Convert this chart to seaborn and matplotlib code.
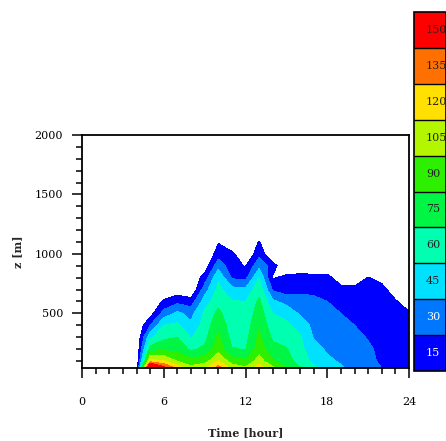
import numpy as np
import matplotlib
matplotlib.use("Agg")
import matplotlib.pyplot as plt
import seaborn as sns

# ---------------- data ----------------
hours = [0, 1, 2, 3, 4, 5, 6, 7, 8, 9, 10, 11, 12, 13, 14, 15, 16, 17, 18, 19, 20, 21, 22, 23, 24]
heights = [40, 100, 200, 300, 400, 500, 600, 700, 800, 900, 1000, 1100, 1200]

# concentration profiles (value at each height) for each hour
h00 = [0, 0, 0, 0, 0, 0, 0, 0, 0, 0, 0, 0, 0]
h01 = [0, 0, 0, 0, 0, 0, 0, 0, 0, 0, 0, 0, 0]
h02 = [0, 0, 0, 0, 0, 0, 0, 0, 0, 0, 0, 0, 0]
h03 = [0, 0, 0, 0, 0, 0, 0, 0, 0, 0, 0, 0, 0]
h04 = [0, 0, 0, 0, 0, 0, 0, 0, 0, 0, 0, 0, 0]
h05 = [200, 125, 82, 56, 30, 8, 0, 0, 0, 0, 0, 0, 0]
h06 = [158, 120, 85, 72, 60, 36, 18, 0, 0, 0, 0, 0, 0]
h07 = [130, 104, 85, 75, 63, 48, 26, 5, 0, 0, 0, 0, 0]
h08 = [110, 95, 72, 59, 48, 40, 22, 0, 0, 0, 0, 0, 0]
h09 = [118, 98, 78, 70, 66, 63, 52, 38, 22, 5, 0, 0, 0]
h10 = [142, 120, 98, 93, 86, 79, 70, 64, 58, 40, 22, 14, 0]
h11 = [115, 97, 76, 70, 67, 64, 61, 50, 28, 20, 19, 0, 0]
h12 = [108, 92, 74, 70, 67, 64, 60, 48, 26, 14, 0, 0, 0]
h13 = [128, 112, 98, 93, 88, 83, 78, 70, 60, 41, 25, 16, 0]
h14 = [108, 92, 80, 72, 66, 60, 48, 28, 13, 22, 0, 0, 0]
h15 = [90, 80, 76, 69, 63, 55, 40, 22, 20, 0, 0, 0, 0]
h16 = [76, 70, 65, 62, 54, 43, 35, 27, 20, 5, 0, 0, 0]
h17 = [63, 55, 50, 44, 41, 37, 33, 27, 19, 5, 0, 0, 0]
h18 = [55, 48, 43, 40, 37, 34, 30, 25, 19, 5, 0, 0, 0]
h19 = [47, 43, 40, 37, 34, 30, 25, 19, 8, 0, 0, 0, 0]
h20 = [40, 38, 36, 34, 30, 27, 23, 18, 8, 0, 0, 0, 0]
h21 = [35, 33, 32, 29, 27, 25, 23, 20, 15.5, 0, 0, 0, 0]
h22 = [30, 28, 27, 26, 25, 23, 21, 18, 12, 0, 0, 0, 0]
h23 = [27, 26, 25, 24, 22, 20, 16, 10, 0, 0, 0, 0, 0]
h24 = [25, 24, 23, 21, 19, 16, 10, 0, 0, 0, 0, 0, 0]

levels = [15, 30, 45, 60, 75, 90, 105, 120, 135, 150, 1000]
level_labels = ["15", "30", "45", "60", "75", "90", "105", "120", "135", "150"]
level_colors = ["#0000FF", "#0077FF", "#00E1FF", "#00FFB0", "#00F545",
                "#2CF000", "#B4F500", "#FFE000", "#FF7000", "#FF0000"]
label_text_colors = ["white", "white", "#222222", "#222222", "#222222",
                     "#222222", "#222222", "#222222", "#222222", "#222222"]

x_major = [0, 6, 12, 18, 24]
y_major = [500, 1000, 1500, 2000]

# ---------------- plot ----------------
sns.set_theme(style="ticks")
plt.rcParams["font.family"] = ["DejaVu Serif"]
plt.rcParams["axes.linewidth"] = 1.3

Z = np.array([h00, h01, h02, h03, h04, h05, h06, h07, h08, h09, h10, h11, h12,
              h13, h14, h15, h16, h17, h18, h19, h20, h21, h22, h23, h24]).T

fig = plt.figure(figsize=(4.46, 4.41), dpi=100)
ax = fig.add_axes([82 / 446, 73 / 441, 327 / 446, 233 / 441])

cf = ax.contourf(hours, heights, Z, levels=levels, colors=level_colors)

ax.set_xlim(0, 24)
ax.set_ylim(40, 2000)
ax.set_xticks(x_major)
ax.set_xticks(hours, minor=True)
ax.set_yticks(y_major)
ax.set_yticks(list(range(100, 2001, 100)), minor=True)
ax.tick_params(axis="both", which="major", direction="out", length=7.2, width=1.1,
               colors="black", labelsize=8)
ax.tick_params(axis="both", which="minor", direction="out", length=4.0, width=1.1,
               colors="black")
ax.tick_params(axis="x", which="major", pad=13.5)
ax.tick_params(axis="y", which="major", pad=6.5)
for s in ax.spines.values():
    s.set_color("black")
    s.set_linewidth(1.3)

ax.set_xlabel("Time [hour]", fontsize=8, fontweight="bold", labelpad=15)
ax.set_ylabel("z [m]", fontsize=8, fontweight="bold", labelpad=8)

# colorbar
cax = fig.add_axes([414 / 446, 70 / 441, 32 / 446, 359 / 441])
cb = fig.colorbar(cf, cax=cax, spacing="uniform", drawedges=True)
cb.set_ticks([])
cb.outline.set_edgecolor("black")
cb.outline.set_linewidth(1.2)
cb.dividers.set_color("black")
cb.dividers.set_linewidth(1.0)
for i, (lab, tc) in enumerate(zip(level_labels, label_text_colors)):
    cax.text(0.37, (i + 0.5) / 10, lab, transform=cax.transAxes, ha="left",
             va="center", fontsize=8, color=tc)

fig.savefig("out.png", dpi=100)
